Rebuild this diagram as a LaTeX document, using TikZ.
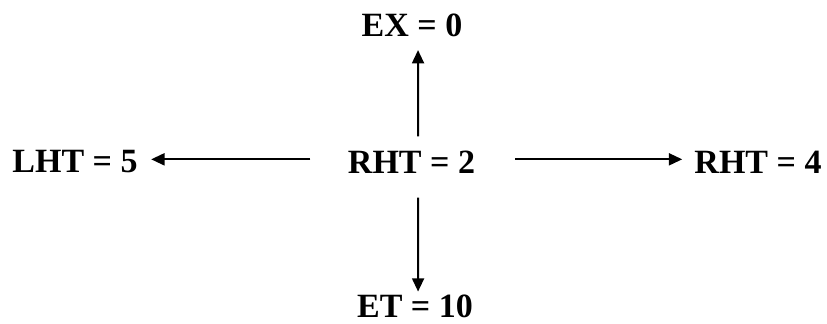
\documentclass[tikz,border=0pt]{standalone}
\usepackage{fontspec}
\setmainfont{Liberation Serif}
\usetikzlibrary{arrows.meta}
\begin{document}
\begin{tikzpicture}[x=0.75pt, y=0.75pt]
% transitions from state RHT = 2
\providecommand{\stateFontSize}{\fontsize{25.5pt}{30pt}\selectfont}
\providecommand{\moveLineWidth}{1.5pt}
\tikzset{
  state/.style={inner sep=0pt, font=\stateFontSize\bfseries},
  move/.style={draw=black, line width=\moveLineWidth, -{Triangle[length=10pt,width=9pt]}}
}
\useasboundingbox (0,0) rectangle (827,324);
  % States
  \node[state] (rht2) at (411.5,162) {RHT = 2};
  \node[state] (ex0) at (412,299) {EX = 0};
  \node[state] (et10) at (415,18) {ET = 10};
  \node[state] (lht5) at (75,162) {LHT = 5};
  \node[state] (rht4) at (758,162) {RHT = 4};
  % Moves
  \begin{scope}[move]
    \draw[shorten <=10.5pt, shorten >=10pt] ([xshift=5pt]rht2.north) -- ([xshift=4.5pt]ex0.south);
    \draw[shorten <=18pt, shorten >=2pt] ([xshift=5pt]rht2.south) -- ([xshift=2.3pt]et10.north);
    \draw[shorten <=28pt, shorten >=10pt] ([yshift=2pt]rht2.west) -- ([yshift=2pt]lht5.east);
    \draw[shorten <=30pt, shorten >=9pt] ([yshift=2pt]rht2.east) -- ([yshift=2pt]rht4.west);
  \end{scope}
\end{tikzpicture}
\end{document}
